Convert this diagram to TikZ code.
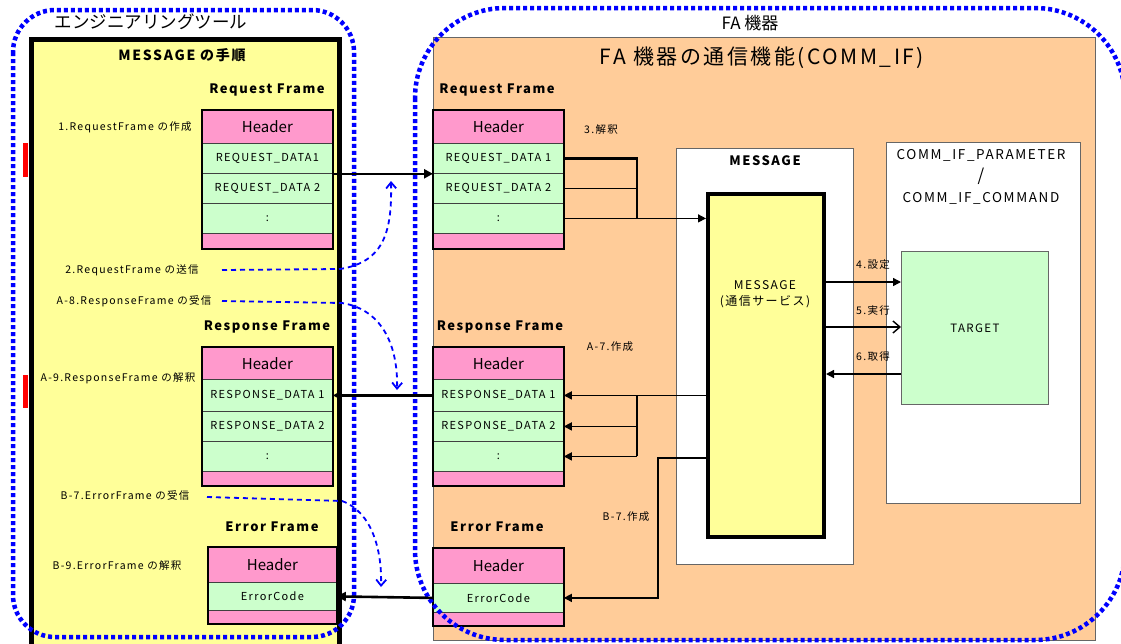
\documentclass[tikz,border=0pt]{standalone}
\usepackage{fontspec}
\setmainfont{Noto Sans CJK JP}
\newfontfamily\lsfont{Noto Sans CJK JP}[LetterSpace=12]
\usetikzlibrary{arrows.meta}
\definecolor{pinkf}{HTML}{FF99CC}
\definecolor{greenf}{HTML}{CCFFCC}
\definecolor{yellowf}{HTML}{FFFF99}
\definecolor{orangef}{HTML}{FFCC99}
\definecolor{bluel}{HTML}{0000FF}
\tikzset{
  cell/.style={draw=black!75, line width=0.8pt, anchor=north west, inner sep=0pt,
    minimum width=130pt, font=\lsfont\fontsize{11}{12}\selectfont},
  hdr/.style={cell, fill=pinkf, minimum height=33pt, font=\fontsize{15}{16}\selectfont},
  dat/.style={cell, fill=greenf, minimum height=30pt},
  tailc/.style={cell, fill=pinkf, minimum height=15pt},
  frameout/.style={draw=black, line width=2pt},
  lbl/.style={font=\lsfont\fontsize{10.5}{11}\selectfont, inner sep=0pt},
  ttl/.style={font=\lsfont\bfseries\fontsize{13}{14}\selectfont, inner sep=0pt},
  panel/.style={draw=black!60, line width=0.8pt, anchor=north west, inner sep=0pt},
  bigarrow/.style={line width=2.6pt, -{Triangle[length=9pt,width=9pt]}},
  thinarrow/.style={line width=1.4pt, -{Triangle[length=8pt,width=8pt]}},
  bluedash/.style={bluel, line width=1.8pt, dash pattern=on 5pt off 4pt, -{Straight Barb[length=6pt,width=10pt]}},
  bluedot/.style={bluel, line width=4.5pt, dash pattern=on 4pt off 3pt},
}
\begin{document}
\begin{tikzpicture}[x=1pt,y=-1pt]
\useasboundingbox (0,0) rectangle (1121,643);
\clip (0,0) rectangle (1121,643);
\fill[white] (0,0) rectangle (1121,643);

% ---------- right side panels ----------
\node[panel, fill=orangef, minimum width=662pt, minimum height=603pt] (FA) at (433,37) {};
\node[inner sep=0pt, font=\fontsize{17}{18}\selectfont] (FAlbl) at (750,23) {FA 機器};
\node[inner sep=0pt, font=\lsfont\fontsize{21}{23}\selectfont] (FAttl) at (762,58) {FA 機器の通信機能(COMM\_IF)};

\node[panel, fill=white, minimum width=177pt, minimum height=416pt] (MSGout) at (676,148) {};
\node[ttl] (MSGt) at (765,161) {MESSAGE};
\node[draw=black, line width=4pt, fill=yellowf, anchor=north west, inner sep=0pt,
  minimum width=116pt, minimum height=343pt] (MSGin) at (706,192) {};
\node[align=center, inner sep=0pt, font=\lsfont\fontsize{12}{13}\selectfont] (MSGtxt) at (765,294) {MESSAGE\\[3pt](通信サービス)};

\node[panel, fill=white, minimum width=194pt, minimum height=361pt] (CIF) at (886,142) {};
\node[inner sep=0pt, font=\lsfont\fontsize{13.5}{14}\selectfont] (CIFa) at (981,155) {COMM\_IF\_PARAMETER};
\node[inner sep=0pt, font=\fontsize{17}{18}\selectfont] (CIFs) at (981,176) {/};
\node[inner sep=0pt, font=\lsfont\fontsize{13.5}{14}\selectfont] (CIFb) at (981,198) {COMM\_IF\_COMMAND};
\node[panel, fill=greenf, minimum width=147pt, minimum height=153pt] (TGT) at (901,251) {};
\node[inner sep=0pt, font=\lsfont\fontsize{11.5}{12}\selectfont] (TGTt) at (TGT.center) {TARGET};

% ---------- left yellow panel ----------
\node[draw=black, line width=5pt, fill=yellowf, anchor=north west, inner sep=0pt,
  minimum width=308pt, minimum height=630pt] (LY) at (29,37) {};
\fill[red] (23,143) rectangle (28,177);
\fill[red] (23,375) rectangle (28,408);
\node[inner sep=0pt, font=\fontsize{17.5}{18}\selectfont] (ENG) at (151,22) {エンジニアリングツール};
\node[ttl, font=\lsfont\bfseries\fontsize{14}{15}\selectfont] (LYt) at (182,55) {MESSAGE の手順};

% ---------- left frames ----------
\node[ttl] (LRQt) at (267,90) {Request Frame};
\node[hdr] (LRQh) at (202,110) {Header};
\node[dat] (LRQ1) at (202,143) {REQUEST\_DATA1};
\node[dat] (LRQ2) at (202,173) {REQUEST\_DATA 2};
\node[dat] (LRQ3) at (202,203) {:};
\node[tailc] (LRQp) at (202,233) {};
\draw[frameout] (LRQh.north west) rectangle (LRQp.south east);

\node[ttl] (LRSt) at (267,327) {Response Frame};
\node[hdr] (LRSh) at (202,347) {Header};
\node[dat, minimum height=32pt] (LRS1) at (202,379) {RESPONSE\_DATA 1};
\node[dat] (LRS2) at (202,411) {RESPONSE\_DATA 2};
\node[dat] (LRS3) at (202,441) {:};
\node[tailc, minimum height=14pt] (LRSp) at (202,471) {};
\draw[frameout] (LRSh.north west) rectangle (LRSp.south east);

\node[ttl] (LERt) at (272,527) {Error Frame};
\node[hdr, minimum width=128pt, minimum height=35pt] (LERh) at (208,547) {Header};
\node[dat, minimum width=128pt, minimum height=28pt] (LER1) at (208,582) {ErrorCode};
\node[tailc, minimum width=128pt, minimum height=13pt] (LERp) at (208,610) {};
\draw[frameout] (LERh.north west) rectangle (LERp.south east);

% left labels
\node[lbl] (s1) at (125,127) {1.RequestFrame の作成};
\node[lbl] (s2) at (132,270) {2.RequestFrame の送信};
\node[lbl] (sA8) at (134,301) {A-8.ResponseFrame の受信};
\node[lbl] (sA9) at (118,378) {A-9.ResponseFrame の解釈};
\node[lbl] (sB7) at (125,495) {B-7.ErrorFrame の受信};
\node[lbl] (sB9) at (117,566) {B-9.ErrorFrame の解釈};

% ---------- right frames ----------
\node[ttl] (RRQt) at (497,90) {Request Frame};
\node[hdr] (RRQh) at (433,110) {Header};
\node[dat] (RRQ1) at (433,143) {REQUEST\_DATA 1};
\node[dat] (RRQ2) at (433,173) {REQUEST\_DATA 2};
\node[dat] (RRQ3) at (433,203) {:};
\node[tailc] (RRQp) at (433,233) {};
\draw[frameout] (RRQh.north west) rectangle (RRQp.south east);

\node[ttl] (RRSt) at (500,327) {Response Frame};
\node[hdr] (RRSh) at (433,347) {Header};
\node[dat, minimum height=32pt] (RRS1) at (433,379) {RESPONSE\_DATA 1};
\node[dat] (RRS2) at (433,411) {RESPONSE\_DATA 2};
\node[dat] (RRS3) at (433,441) {:};
\node[tailc, minimum height=14pt] (RRSp) at (433,471) {};
\draw[frameout] (RRSh.north west) rectangle (RRSp.south east);

\node[ttl] (RERt) at (497,527) {Error Frame};
\node[hdr, minimum height=35pt] (RERh) at (433,548) {Header};
\node[dat, minimum height=29pt] (RER1) at (433,583) {ErrorCode};
\node[tailc, minimum height=13pt] (RERp) at (433,612) {};
\draw[frameout] (RERh.north west) rectangle (RERp.south east);

% right labels
\node[lbl] (s3) at (601,130) {3.解釈};
\node[lbl] (sA7) at (610,347) {A-7.作成};
\node[lbl] (sB7r) at (626,517) {B-7.作成};
\node[lbl] (s4) at (873,265) {4.設定};
\node[lbl] (s5) at (873,311) {5.実行};
\node[lbl] (s6) at (873,357) {6.取得};

% ---------- connectors inside FA ----------
\coordinate (jx) at (637,0);
\coordinate (jb) at (658,458);
\coordinate (y4) at (0,282);
\coordinate (y5) at (0,327);
\coordinate (y6) at (0,374);
\draw[line width=2.2pt] (RRQ1.east) -- (RRQ1.east -| jx) -- (RRQ3.east -| jx);
\draw[line width=1.3pt] (RRQ2.east) -- (RRQ2.east -| jx);
\draw[thinarrow] (RRQ3.east) -- (RRQ3.east -| MSGin.west);

\draw[thinarrow] (MSGin.west |- RRS1.east) -- (RRS1.east);
\draw[line width=1.4pt] (RRS1.east -| jx) -- (RRS3.east -| jx);
\draw[thinarrow] (RRS2.east -| jx) -- (RRS2.east);
\draw[thinarrow] (RRS3.east -| jx) -- (RRS3.east);
\draw[thinarrow] (MSGin.west |- jb) -- (jb) |- (RER1.east);

\draw[thinarrow] (MSGin.east |- y4) -- (TGT.west |- y4);
\draw[line width=1.4pt, -{Straight Barb[length=7pt,width=12pt]}] (MSGin.east |- y5) -- (TGT.west |- y5);
\draw[thinarrow] (TGT.west |- y6) -- (MSGin.east |- y6);

% ---------- blue dashed arrows ----------
\coordinate (d2a) at (222,270);
\coordinate (d2b) at (340,269);
\coordinate (d2c) at (391,181);
\coordinate (d8a) at (222,301);
\coordinate (d8b) at (342,303);
\coordinate (d8c) at (397,390);
\coordinate (d7a) at (207,497);
\coordinate (d7b) at (342,501);
\coordinate (d7c) at (381,587);
\draw[bluedash] (d2a) -- (d2b) .. controls (385,262) and (392,230) .. (d2c);
\draw[bluedash] (d8a) -- (d8b) .. controls (385,310) and (398,350) .. (d8c);
\draw[bluedash] (d7a) -- (d7b) .. controls (372,512) and (382,550) .. (d7c);

% ---------- blue dotted group outlines ----------
\draw[bluedot, rounded corners=42pt] (13,10) rectangle (354,637);
\draw[bluedot, rounded corners=90pt] (415,8) rectangle (1125,640);

% ---------- thick transfer arrows ----------
\draw[bigarrow] (LRQ1.south east) -- (RRQ1.south west);
\draw[bigarrow] (RRS1.west) -- (LRS1.east);
\draw[bigarrow] (RER1.west) -- (LER1.east);
\end{tikzpicture}
\end{document}
